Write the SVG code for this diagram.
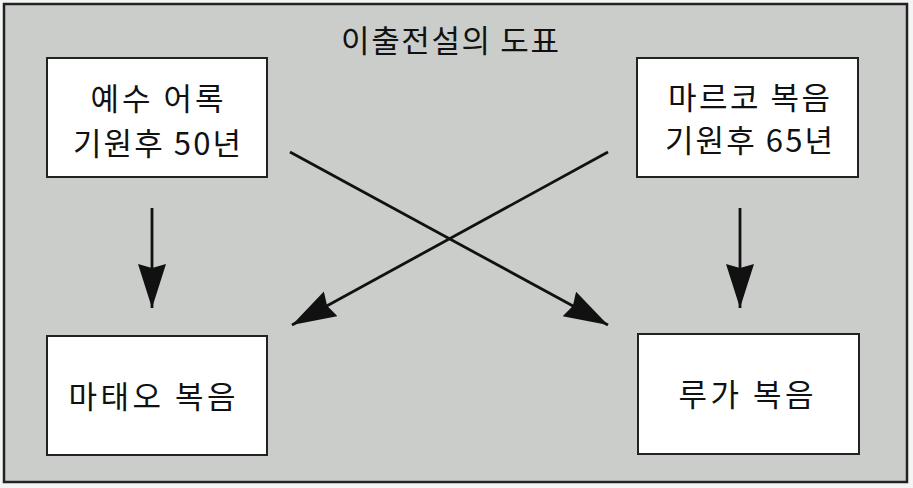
<svg xmlns="http://www.w3.org/2000/svg" width="913" height="488" viewBox="0 0 913 488">
<style>
.box{fill:#ffffff;stroke:#222;stroke-width:2}
.t{font-family:"Noto Sans CJK KR","Noto Sans",sans-serif;font-size:31px;fill:#111;text-anchor:middle;dominant-baseline:central}
.c{stroke:#111;stroke-width:2.8;fill:none;marker-end:url(#ah)}
</style>
<defs>
<marker id="ah" markerUnits="userSpaceOnUse" markerWidth="46" markerHeight="30" refX="44" refY="14" orient="auto" viewBox="0 0 46 30">
<path d="M0,0 L44,14 L0,28 L4,14 z" fill="#111"/>
</marker>
</defs>
<rect x="0" y="0" width="913" height="488" fill="#f4f4f4"/>
<rect x="4" y="4" width="903" height="478" fill="#cbcdcb" stroke="#222" stroke-width="2.5"/>
<text x="450" y="38" class="t" font-size="29" textLength="218" lengthAdjust="spacing">이출전설의 도표</text>
<g id="node-q">
<rect class="box" x="47" y="58" width="220" height="119"/>
<text class="t" x="157" y="96" textLength="133" lengthAdjust="spacing">예수 어록</text>
<text class="t" x="157" y="141" textLength="168" lengthAdjust="spacing">기원후 50년</text>
</g>
<g id="node-mark">
<rect class="box" x="637" y="58" width="221" height="119"/>
<text class="t" x="749" y="95" textLength="162" lengthAdjust="spacing">마르코 복음</text>
<text class="t" x="749" y="138" textLength="168" lengthAdjust="spacing">기원후 65년</text>
</g>
<g id="node-matthew">
<rect class="box" x="47" y="336" width="220" height="119"/>
<text class="t" x="152" y="394" textLength="167" lengthAdjust="spacing">마태오 복음</text>
</g>
<g id="node-luke">
<rect class="box" x="638" y="334" width="221" height="120"/>
<text class="t" x="746" y="392" textLength="135" lengthAdjust="spacing">루가 복음</text>
</g>
<g id="connectors">
<line class="c" x1="152" y1="208" x2="152" y2="308"/>
<line class="c" x1="740" y1="208" x2="740" y2="308"/>
<line class="c" x1="290" y1="152" x2="608" y2="325"/>
<line class="c" x1="608" y1="152" x2="292" y2="325"/>
</g>
</svg>
